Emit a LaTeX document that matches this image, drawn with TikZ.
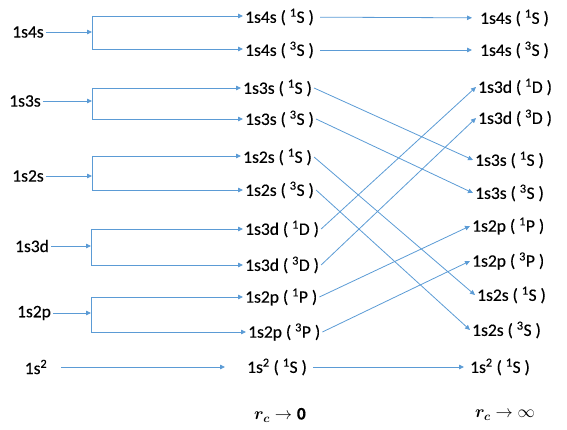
\documentclass[tikz,border=0pt]{standalone}
\usepackage{fontspec}
\setmainfont{Carlito}[FakeBold=0.35]
\usepackage{amsmath,bm}
\usetikzlibrary{arrows.meta}
\definecolor{lb}{RGB}{91,155,213}
\tikzset{
  lbl/.style={font=\fontsize{17.5}{20}\selectfont, inner sep=2pt},
  mid/.style={lbl, anchor=west},
  rgt/.style={lbl, anchor=west},
  ln/.style={draw=lb, line width=0.8pt},
  arr/.style={ln, -{Triangle[length=5pt,width=4.5pt]}},
}
\newcommand{\tm}[3]{#1 ( \textsuperscript{#2}#3 )}
\begin{document}
\begin{tikzpicture}[x=1pt,y=-1pt]
\useasboundingbox (0,0) rectangle (567,430);
% left labels
\node[lbl] (l4s) at (28,32) {1s4s};
\node[lbl] (l3s) at (25,101) {1s3s};
\node[lbl] (l2s) at (28,176) {1s2s};
\node[lbl] (l3d) at (32,246) {1s3d};
\node[lbl] (l2p) at (34,313) {1s2p};
\node[lbl] (l1s) at (36,367) {1s\textsuperscript{2}};
% middle labels
\node[mid] (m4s1) at (243,17) {\tm{1s4s}{1}{S}};
\node[mid] (m4s3) at (243,50) {\tm{1s4s}{3}{S}};
\node[mid] (m3s1) at (241,88) {\tm{1s3s}{1}{S}};
\node[mid] (m3s3) at (243,119) {\tm{1s3s}{3}{S}};
\node[mid] (m2s1) at (241,157) {\tm{1s2s}{1}{S}};
\node[mid] (m2s3) at (243,190) {\tm{1s2s}{3}{S}};
\node[mid] (m3d1) at (243,229) {\tm{1s3d}{1}{D}};
\node[mid] (m3d3) at (243,265) {\tm{1s3d}{3}{D}};
\node[mid] (m2p1) at (243,297) {\tm{1s2p}{1}{P}};
\node[mid] (m2p3) at (246,332) {\tm{1s2p}{3}{P}};
\node[mid] (m1s) at (245,367) {\tm{1s\textsuperscript{2}}{1}{S}};
% right labels
\node[rgt] (r4s1) at (478,18) {\tm{1s4s}{1}{S}};
\node[rgt] (r4s3) at (478,50) {\tm{1s4s}{3}{S}};
\node[rgt] (r3d1) at (476,87) {\tm{1s3d}{1}{D}};
\node[rgt] (r3d3) at (476,118) {\tm{1s3d}{3}{D}};
\node[rgt] (r3s1) at (473,160) {\tm{1s3s}{1}{S}};
\node[rgt] (r3s3) at (473,193) {\tm{1s3s}{3}{S}};
\node[rgt] (r2p1) at (470,226) {\tm{1s2p}{1}{P}};
\node[rgt] (r2p3) at (470,261) {\tm{1s2p}{3}{P}};
\node[rgt] (r2s1) at (475,295) {\tm{1s2s}{1}{S}};
\node[rgt] (r2s3) at (470,330) {\tm{1s2s}{3}{S}};
\node[rgt] (r1s) at (468,367) {\tm{1s\textsuperscript{2}}{1}{S}};
% axis labels
\node[lbl] (ax0) at (280,415) {$\bm{r_c}\rightarrow\mathbf{0}$};
\node[lbl] (axi) at (505,415) {$\bm{r_c}\rightarrow\infty$};
% brackets
\foreach \n/\x/\t/\m/\b in {4s/92/16/32/49, 3s/92/88/101/119, 2s/92/156/176/190, 3d/91/229/246/265, 2p/91/297/313/332}{
  \coordinate (t\n) at (\x,\t);
  \coordinate (c\n) at (\x,\m);
  \coordinate (b\n) at (\x,\b);
  \draw[ln] (t\n) -- (b\n);
  \draw[arr] (l\n) -- (c\n);
}
\draw[arr] (t4s) -- (t4s -| m4s1.west);
\draw[arr] (b4s) -- (b4s -| m4s3.west);
\draw[arr] (t3s) -- (m3s1);
\draw[arr] (b3s) -- (m3s3);
\draw[arr] (t2s) -- (t2s -| m2s1.west);
\draw[arr] (b2s) -- (m2s3);
\draw[arr] (t3d) -- (m3d1);
\draw[arr] (b3d) -- (m3d3);
\draw[arr] (t2p) -- (m2p1);
\draw[arr] (b2p) -- (m2p3);
\draw[arr, shorten <=12pt, shorten >=20pt] (l1s) -- (m1s);
% middle to right
\draw[arr, shorten <=4pt, shorten >=6pt] (m4s1) -- (r4s1);
\draw[arr, shorten <=4pt, shorten >=6pt] (m4s3) -- (r4s3);
\draw[arr, shorten <=4pt, shorten >=4pt] (m1s) -- (r1s);
\draw[arr] (m3s1.east) -- (r3s1.west);
\draw[arr] (m3s3.east) -- (r3s3.west);
\draw[arr] (m2s1.east) -- (r2s1.west);
\draw[arr] (m2s3.east) -- (r2s3.west);
\draw[arr] (m3d1.east) -- (r3d1.west);
\draw[arr] (m3d3.east) -- (r3d3.west);
\draw[arr] (m2p1.east) -- (r2p1.west);
\draw[arr] (m2p3.east) -- (r2p3.west);
\end{tikzpicture}
\end{document}
